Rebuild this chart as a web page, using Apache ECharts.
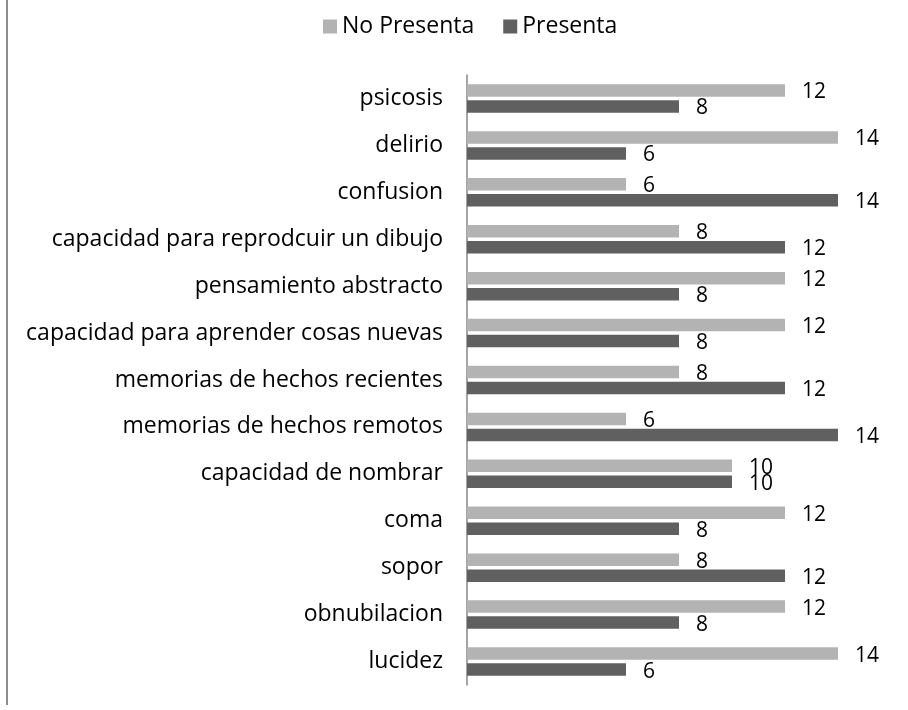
<!DOCTYPE html>
<html>
<head>
<meta charset="utf-8">
<script src="https://cdn.jsdelivr.net/npm/echarts@6/dist/echarts.min.js"></script>
<style>
  html, body { margin: 0; padding: 0; background: #fff; }
  #chart { width: 908px; height: 710px; }
</style>
</head>
<body>
<div id="chart"></div>
<script>
// categorias de arriba hacia abajo
var categories = ['psicosis', 'delirio', 'confusion', 'capacidad para reprodcuir un dibujo',
  'pensamiento abstracto', 'capacidad para aprender cosas nuevas', 'memorias de hechos recientes',
  'memorias de hechos remotos', 'capacidad de nombrar', 'coma', 'sopor', 'obnubilacion', 'lucidez'];
var noPresenta = [12, 14, 6, 8, 12, 12, 8, 6, 10, 12, 8, 12, 14];
var presenta = [8, 6, 14, 12, 8, 8, 12, 14, 10, 8, 12, 8, 6];

var myChart = echarts.init(document.getElementById('chart'));
var font = 'Open Sans';
var labelStyle = {
  show: true,
  position: 'right',
  distance: 17,
  offset: [0, 2],
  color: '#000',
  fontFamily: font,
  fontSize: 21
};
var option = {
  animation: false,
  textStyle: { fontFamily: font },
  legend: {
    top: 10,
    left: 318,
    itemWidth: 14,
    itemHeight: 14,
    itemGap: 29,
    icon: 'rect',
    textStyle: { fontSize: 23, color: '#000', fontFamily: font },
    data: ['No Presenta', 'Presenta']
  },
  grid: {
    left: 467,
    right: 17,
    top: 75,
    bottom: 25,
    containLabel: false
  },
  xAxis: {
    type: 'value',
    min: 0,
    max: 16,
    interval: 2,
    axisLine: { show: false },
    axisTick: { show: false },
    splitLine: { show: false },
    axisLabel: { show: false }
  },
  yAxis: {
    type: 'category',
    inverse: true,
    data: categories,
    axisLine: { show: true, lineStyle: { color: '#868686', width: 1.5 } },
    axisTick: { show: false },
    axisLabel: { color: '#000', fontSize: 23, fontFamily: font, margin: 24 }
  },
  graphic: [{
    type: 'rect',
    shape: { x: 6, y: 0, width: 2, height: 705 },
    style: { fill: '#8c8c8c' }
  }],
  series: [{
    name: 'No Presenta',
    type: 'bar',
    data: noPresenta,
    barWidth: 12.5,
    barGap: '28%',
    itemStyle: { color: '#b3b3b3' },
    label: labelStyle
  }, {
    name: 'Presenta',
    type: 'bar',
    data: presenta,
    barWidth: 12.5,
    barGap: '28%',
    itemStyle: { color: '#606060' },
    label: labelStyle
  }]
};
myChart.setOption(option);
window.addEventListener('resize', function () { myChart.resize(); });
</script>
</body>
</html>
